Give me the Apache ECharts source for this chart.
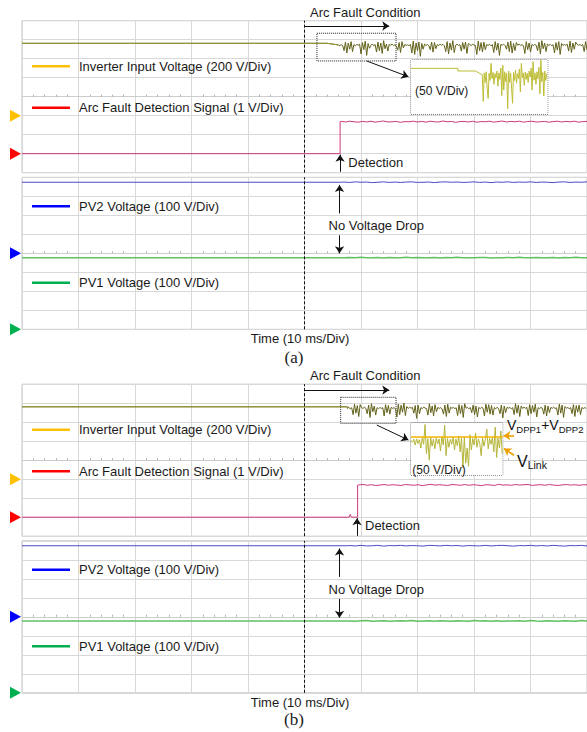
<!DOCTYPE html>
<html><head><meta charset="utf-8">
<script src="https://cdn.jsdelivr.net/npm/echarts@6.0.0/dist/echarts.min.js"></script>
<style>html,body{margin:0;padding:0;background:#fff}#c{width:587px;height:732px}</style>
</head><body><div id="c"></div>
<script>
// ================= DATA =================
const timeMin = 0, timeMax = 100, timeInterval = 10;   // ms, 10 ms/div
const faultTime = 50;                                    // arc fault start (ms)
const noiseStep = 0.25;                                  // ms between noise samples
const jitStep = 0.75;                                    // ms between detection-signal samples
const pvStep = 1;                                        // ms between PV samples
const legendNames = ['Inverter Input Voltage (200 V/Div)', 'Arc Fault Detection Signal (1 V/Div)', 'PV2 Voltage (100 V/Div)', 'PV1 Voltage (100 V/Div)'];

// ---- (a) inverter input voltage (V) ----
const invA_T = [0, 54, 56];
const invA_V = [762, 762, 745];
const invA_noiseStart = 56, invA_base = 745;
const invA_noise = [5,-8,3,-5,
 -60,30,-85,20,-45,35,-70,
 4,-10,6,-3,8,
 -95,25,-50,40,-110,15,-35,
 -5,10,-8,3,
 -75,30,-60,20,-90,45,-40,10,-65,
 6,-4,9,-7,2,-10,
 -55,25,-80,35,-30,
 5,-6,3,-9,7,
 -85,40,-100,20,-60,30,-120,15,-45,
 8,-5,4,-8,
 -50,30,-75,25,-40,
 3,-7,10,-4,6,-9,
 -70,35,-95,20,-55,45,-80,
 -3,7,-6,4,
 -65,25,-45,30,-90,15,
 5,-8,9,-2,-6,
 -100,40,-60,25,-75,30,-50,
 4,-5,7,-9,3,
 -80,35,-55,20,-110,
 6,-3,8,-7,
 -45,30,-70,40,-85,15,-60,25,
 -4,9,-6,3,-8,
 -90,35,-50,20,-75,
 5,-7,4,-3,
 -60,30,-95,45,-40,20,-70,
 8,-5,6,-9,2,
 -85,25,-55,35,-100,15,
 -6,4,-3,7,
 -65,40,-80,20,-45,30,
 7,-4,5,-8,3,
 -70,35,-50,25,-90,20];
// ---- (a) detection signal (V) ----
const detA_T = [0, 56.3, 56.3];
const detA_V = [0, 0, 1.68];
const detA_jitStart = 56.5, detA_base = 1.68;
const detA_jit = [0.02,-0.01,0.03,0,-0.02,0.02,-0.01,0.03,-0.02,0.01,
 0.04,-0.01,0,0.02,-0.03,0.01,0,0.03,-0.01,0.02,
 -0.02,0.03,0,-0.01,0.04,0,0.02,-0.03,0.01,0.02,
 -0.01,0.03,-0.02,0.01,0,0.03,-0.02,0.01,0.04,-0.01,
 0.02,0,0.03,-0.02,0.01,0.03,-0.01,0,0.02,-0.02,
 0.01,0.03,-0.01,0.02,0,0.03,-0.02,0.01,0.02,-0.01];
// ---- (a) PV voltages (V) ----
const pv2A_T = [0, 56.5], pv2A_V = [374, 374];
const pv2A_jitStart = 57, pv2A_base = 374;
const pv2A_jit = [1,-1,2,0,1,-2,0,2,-1,1,-1,1,2,-1,0,1,-2,1,2,0,1,-1,0,2,-1,1,-2,1,0,2,-1,1,0,2,-1,1,0,-2,1,2,-1,1,0,2];
const pv1A_T = [0, 56.5], pv1A_V = [377, 377];
const pv1A_jitStart = 57, pv1A_base = 377;
const pv1A_jit = [-1,1,0,2,-1,0,1,-2,1,0,-1,2,-1,1,0,0,1,-2,1,0,2,-1,0,-1,1,1,-2,0,0,1,-1,2,0,-1,1,-1,0,1,-2,1,0,2,-1,0];

// ---- (b) inverter input voltage (V) ----
const invB_T = [0, 57.6];
const invB_V = [762, 762];
const invB_noiseStart = 57.6, invB_base = 750;
const invB_noise = [-4,6,-8,3,
 -70,40,-55,25,-90,35,
 5,-6,8,-3,
 -60,30,-100,45,-40,20,-75,
 4,-9,6,-5,2,
 -85,35,-50,25,-65,
 7,-4,3,-8,
 -95,40,-70,30,-45,50,-80,15,
 -5,8,-3,6,
 -55,25,-110,30,-60,
 4,-7,9,-2,-6,
 -75,45,-50,20,-85,35,-40,
 6,-5,3,-9,
 -65,30,-90,40,-55,
 8,-4,5,-7,2,
 -80,35,-60,25,-100,45,
 -3,6,-8,4,
 -50,30,-70,20,-95,
 5,-6,7,-3,
 -85,40,-45,35,-65,25,-75,
 4,-8,6,-5,
 -60,30,-105,20,-50,
 7,-3,5,-9,3,
 -70,45,-55,30,-90,20,
 -5,8,-4,6,
 -80,35,-60,25,-45,40,-95,
 3,-7,5,-2,
 -65,30,-85,20,-50,
 6,-4,8,-6,2,
 -75,40,-55,30,-100,15,
 -3,5,-8,4,
 -60,35,-90,25,-45,30,-70,
 5,-6,3,-4];
// ---- (b) detection signal (V) ----
const detB_T = [0, 57.9, 58.1, 58.3, 59.4, 59.4];
const detB_V = [0, 0, 0.15, 0, 0, 1.69];
const detB_jitStart = 59.6, detB_base = 1.69;
const detB_jit = [0.01,0.03,-0.01,0.02,-0.02,0,0.03,-0.01,0.02,0,
 -0.02,0.03,0.01,-0.01,0.02,-0.03,0.01,0.04,0,0.02,
 0,-0.02,0.03,0.01,-0.01,0.03,-0.01,0.02,0,-0.03,
 0.02,0.01,-0.02,0.04,0,0.01,-0.01,0.03,0,0.02,
 0.03,-0.02,0.01,0.02,-0.01,0.03,0,-0.02,0.01,0.03,
 0,0.02,-0.01,0.02,0.01];
// ---- (b) PV voltages (V) ----
const pv2B_T = [0, 57.5], pv2B_V = [374, 374];
const pv2B_jitStart = 58, pv2B_base = 374;
const pv2B_jit = [1,-1,2,-1,0,2,-2,1,0,2,-1,1,0,-2,2,1,-1,2,0,1,-2,1,0,-1,2,-1,1,2,0,-2,1,0,2,-1,1,-1,2,0,-2,1,0,2,-1];
const pv1B_T = [0, 57.5], pv1B_V = [378, 378];
const pv1B_jitStart = 58, pv1B_base = 378;
const pv1B_jit = [0,-1,1,2,-1,0,1,-2,0,1,0,2,-1,0,1,-1,1,0,-2,1,0,-1,2,0,1,-1,1,-2,0,0,1,-1,2,0,-1,1,0,-2,1,0,-1,2,0];

// ---- zoomed views (50 V/Div) ----
const boxA_t = [52.2, 66.2];                    // time window of the dotted box (a)
const insetA_T = [52.2, 57.0, 57.0, 58.8, 59.5];
const insetA_V = [762, 762, 755, 755, 745];
const insetA_noiseStart = 59.6, insetA_step = 0.1, insetA_base = 745;
const insetA_noise = [-70,5,-20,8,-35,-62,4,-15,30,-10,6,-25,3,-8,10,-30,5,-12,18,-55,
 25,-40,8,-18,4,-89,10,-20,5,-35,-75,6,-15,12,-22,3,-10,15,-45,30,
 -8,5,-28,7,-12,4,-20,10,-6,18,-40,35,-14,5,-25,8,-10,20,-50,40,
 -18,6,-56,10,-15,3];
const boxB_t = [56.4, 66.2];                    // time window of the dotted box (b)
const insetB_dppT = [56.4, 66.2], insetB_dppV = [760, 760];   // VDPP1+VDPP2
const insetB_linkStart = 56.4, insetB_step = 0.15, insetB_base = 751; // VLink
const insetB_link = [0,-5,3,-12,4,-8,2,-20,6,-10,42,-35,5,-52,8,-15,3,-22,6,-9,
 4,-28,10,-12,40,-40,5,-18,3,-10,8,-25,4,-14,12,-30,6,-72,10,-60,
 -20,-68,15,-25,5,-12,20,-18,4,-8,-40,6,-15,3,30,-22,5,-10,8,-30,
 35,-45,6,-20,25,-35];

// ================= helpers =================
const FONT = "'Liberation Sans', Arial, Helvetica, sans-serif";
function series(keyT, keyV, start, step, base, devs) {
  const d = keyT.map((t, i) => [t, keyV[i]]);
  devs.forEach((v, i) => d.push([+(start + i * step).toFixed(3), +(base + v).toFixed(3)]));
  return d;
}
const invA = series(invA_T, invA_V, invA_noiseStart, noiseStep, invA_base, invA_noise);
const detA = series(detA_T, detA_V, detA_jitStart, jitStep, detA_base, detA_jit);
const pv2A = series(pv2A_T, pv2A_V, pv2A_jitStart, pvStep, pv2A_base, pv2A_jit);
const pv1A = series(pv1A_T, pv1A_V, pv1A_jitStart, pvStep, pv1A_base, pv1A_jit);
const invB = series(invB_T, invB_V, invB_noiseStart, noiseStep, invB_base, invB_noise);
const detB = series(detB_T, detB_V, detB_jitStart, jitStep, detB_base, detB_jit);
const pv2B = series(pv2B_T, pv2B_V, pv2B_jitStart, pvStep, pv2B_base, pv2B_jit);
const pv1B = series(pv1B_T, pv1B_V, pv1B_jitStart, pvStep, pv1B_base, pv1B_jit);
const insA = series(insetA_T, insetA_V, insetA_noiseStart, insetA_step, insetA_base, insetA_noise);
const insBdpp = series(insetB_dppT, insetB_dppV, 0, 0, 0, []);
const insBlink = series([], [], insetB_linkStart, insetB_step, insetB_base, insetB_link);
// pre-arc part of the inverter traces (drawn in the lighter olive of the scope)
const invA_pre = invA.filter(p => p[0] <= invA_noiseStart);
const invB_pre = invB.filter(p => p[0] <= invB_noiseStart);

// ================= layout =================
const grids = [
  {left: 22, top: 20.7, width: 566, height: 152},
  {left: 22, top: 177.3, width: 566, height: 152},
  {left: 22, top: 384.2, width: 566, height: 152},
  {left: 22, top: 540.8, width: 566, height: 152},
  {left: 411, top: 60, width: 136.7, height: 54.3, z: 4},
  {left: 411, top: 423, width: 91.7, height: 52, z: 4}
].map(g => g.z ? Object.assign({show: true, backgroundColor: '#fff', borderWidth: 0}, g)
               : Object.assign({show: true, borderColor: '#c6c6c6', borderWidth: 1}, g));

function mainX(g, divIdx) {
  return {type: 'value', gridIndex: g, min: timeMin, max: timeMax, interval: timeInterval,
    axisLabel: {show: false}, axisTick: {show: false, inside: true},
    axisLine: {show: true, onZero: true, onZeroAxisIndex: divIdx, lineStyle: {color: '#cdcdcd'}},
    minorTick: {show: true, splitNumber: 5, length: 2, lineStyle: {color: '#b0b0b0'}},
    splitLine: {show: true, lineStyle: {color: '#d8d8d8', width: 1}}};
}
function divY(g) {
  return {type: 'value', gridIndex: g, min: -4, max: 4, interval: 1,
    axisLabel: {show: false}, axisTick: {show: false}, axisLine: {show: false},
    splitLine: {show: true, lineStyle: {color: '#d8d8d8', width: 1}}};
}
function hidY(g, min, max) { return {type: 'value', gridIndex: g, min, max, show: false, splitLine: {show: false}}; }
const xAxes = [mainX(0, 0), mainX(1, 3), mainX(2, 6), mainX(3, 9),
  {type: 'value', gridIndex: 4, min: boxA_t[0], max: boxA_t[1], show: false, splitLine: {show: false}},
  {type: 'value', gridIndex: 5, min: boxB_t[0], max: boxB_t[1], show: false, splitLine: {show: false}}];
const yAxes = [
  divY(0), hidY(0, -600, 1000), hidY(0, -1, 7),
  divY(1), hidY(1, -400, 400), hidY(1, 0, 800),
  divY(2), hidY(2, -600, 1000), hidY(2, -1, 7),
  divY(3), hidY(3, -400, 400), hidY(3, 0, 800),
  hidY(4, 641, 784), hidY(5, 660, 797)
];

const faultLine = {silent: true, symbol: 'none', label: {show: false},
  lineStyle: {type: [3, 2], color: '#111', width: 1}, data: [{xAxis: faultTime}]};
function trace(name, x, y, data, color, width, extra) {
  return Object.assign({name, type: 'line', xAxisIndex: x, yAxisIndex: y, data, showSymbol: false, symbol: 'none',
    silent: true, animation: false, lineStyle: {color, width}, itemStyle: {color}, emphasis: {disabled: true}}, extra || {});
}
function arrows(lines) {
  return {silent: true, symbol: ['none', 'arrow'], symbolSize: 7, label: {show: false}, emphasis: {disabled: true},
    lineStyle: {color: '#111', width: 1, type: 'solid'}, data: lines};
}
function seg(x1, y1, x2, y2, style) {
  const a = {coord: [x1, y1]}, b = {coord: [x2, y2]};
  if (style) { a.lineStyle = style; }
  return [a, b];
}
const dotted = {color: 'rgba(0,0,0,0)', borderColor: '#222', borderWidth: 1, borderType: 'dotted'};
function box(x1, y1, x2, y2) { return {silent: true, itemStyle: dotted, label: {show: false}, data: [[{coord: [x1, y1]}, {coord: [x2, y2]}]]}; }
const orange = {color: '#eda000', width: 1.6};

const seriesList = [
  trace(legendNames[0], 0, 1, invA, '#62621a', 1, {markLine: faultLine}),
  trace(legendNames[1], 0, 2, detA, '#c8387c', 1),
  trace('annotations a-top', 0, 0, [], '#000', 1, {
    markLine: arrows([seg(faultTime, 3.72, 65, 3.72), seg(detA_T[1], -3.95, detA_T[1], -3.05), seg(61.0, 1.88, 68.4, 1.05)]),
    markArea: box(boxA_t[0], 3.34, boxA_t[1], 1.88)}),
  trace(legendNames[2], 1, 4, pv2A, '#4a4ac8', 1, {markLine: faultLine}),
  trace(legendNames[3], 1, 5, pv1A, '#62c065', 1.5),
  trace('annotations a-bottom', 1, 3, [], '#000', 1, {
    markLine: arrows([seg(56.2, 2.1, 56.2, 3.6), seg(56.2, 0.95, 56.2, 0.0)])}),
  trace(legendNames[0], 2, 7, invB, '#62621a', 1, {markLine: faultLine}),
  trace(legendNames[1], 2, 8, detB, '#c8387c', 1),
  trace('annotations b-top', 2, 6, [], '#000', 1, {
    markLine: arrows([seg(faultTime, 3.69, 65, 3.69), seg(59.3, -3.98, 59.3, -3.05), seg(62.8, 1.85, 68.4, 1.06),
      seg(87.1, 1.29, 85.2, 1.29, orange), seg(87.1, 0.26, 85.3, 0.61, orange)]),
    markArea: box(boxB_t[0], 3.31, boxB_t[1], 1.94)}),
  trace(legendNames[2], 3, 10, pv2B, '#4a4ac8', 1, {markLine: faultLine}),
  trace(legendNames[3], 3, 11, pv1B, '#62c065', 1.5),
  trace('annotations b-bottom', 3, 9, [], '#000', 1, {
    markLine: arrows([seg(56.2, 2.1, 56.2, 3.6), seg(56.2, 0.95, 56.2, -0.05)])}),
  trace('Inverter Input Voltage (50 V/Div) a', 4, 12, insA, '#bdbd36', 1, {z: 5,
    markArea: box(boxA_t[0], 641, boxA_t[1], 784)}),
  trace('VDPP1+VDPP2', 5, 13, insBdpp, '#f2b400', 1.6, {z: 6,
    markArea: box(boxB_t[0], 660, boxB_t[1], 797)}),
  trace('VLink', 5, 13, insBlink, '#b5b53a', 1, {z: 5}),
  trace(legendNames[0], 0, 1, invA_pre, '#9a9a36', 1, {z: 3}),
  trace(legendNames[0], 2, 7, invB_pre, '#9a9a36', 1, {z: 3})
];

const legendColors = ['#ffc000', '#ff0000', '#0000ff', '#00b050'];
const legendY = [66.7, 108.3, 206.7, 283.3];
const panelOffset = 363.5;
const legends = [];
[0, panelOffset].forEach(off => legendNames.forEach((n, i) => legends.push({
  data: [{name: n, icon: 'rect', itemStyle: {color: legendColors[i]}}],
  left: 32, top: legendY[i] + off - 7, padding: 0, itemWidth: 38, itemHeight: 2.5,
  selectedMode: false, textStyle: {fontSize: 13, color: '#1a1a1a', fontFamily: FONT, padding: [0, 0, 0, 4]}
})));

const chart = echarts.init(document.getElementById('c'), null, {renderer: 'svg', width: 587, height: 732});
chart.setOption({animation: false, backgroundColor: '#fff', grid: grids, xAxis: xAxes, yAxis: yAxes,
  legend: legends, series: seriesList});

// ---- markers (channel reference levels) and text annotations ----
const markerSeries = [[0, 0], [1, 1], [3, 2], [4, 3], [6, 0], [7, 1], [9, 2], [10, 3]];
const graphics = markerSeries.map(([si, ci]) => {
  const p = chart.convertToPixel({seriesIndex: si}, [timeMin, 0]);
  return {type: 'polygon', silent: true, shape: {points: [[p[0] - 12, p[1] - 6], [p[0] - 12, p[1] + 6], [p[0] - 1, p[1]]]},
    style: {fill: legendColors[ci]}};
});
function txt(text, x, y, opt) {
  return {type: 'text', x, y, silent: true, z: 10,
    style: Object.assign({text, fontSize: 13, fontFamily: FONT, fill: '#1a1a1a', align: 'left', verticalAlign: 'middle'}, opt || {})};
}
graphics.push(
  txt('Arc Fault Condition', 310, 12.7),
  txt('Detection', 348.3, 162.8),
  txt('No Voltage Drop', 328.5, 225),
  txt('(50 V/Div)', 415, 91, {fontSize: 12}),
  txt('Time (10 ms/Div)', 300, 338, {align: 'center'}),
  txt('(a)', 294, 357, {align: 'center', fontSize: 17, fontFamily: "'Liberation Serif', 'Times New Roman', serif"}),
  txt('Arc Fault Condition', 310, 375.7),
  txt('Detection', 365, 525.7),
  txt('No Voltage Drop', 328.5, 589),
  txt('(50 V/Div)', 412.3, 470, {fontSize: 12}),
  txt('Time (10 ms/Div)', 300, 702, {align: 'center'}),
  txt('(b)', 294, 719, {align: 'center', fontSize: 17, fontFamily: "'Liberation Serif', 'Times New Roman', serif"}),
  txt('{v|V}{s|DPP1}{v|+V}{s|DPP2}', 507, 426, {rich: {
    v: {fontSize: 14, fontFamily: FONT, fill: '#111', lineHeight: 17, verticalAlign: 'top'},
    s: {fontSize: 9.5, fontFamily: FONT, fill: '#111', lineHeight: 9, verticalAlign: 'bottom'}}}),
  txt('{v|V}{s|Link}', 517, 462, {rich: {
    v: {fontSize: 16, fontFamily: FONT, fill: '#111', lineHeight: 17, verticalAlign: 'top'},
    s: {fontSize: 10.5, fontFamily: FONT, fill: '#111', lineHeight: 9, verticalAlign: 'bottom'}}})
);
chart.setOption({graphic: graphics});
</script></body></html>
